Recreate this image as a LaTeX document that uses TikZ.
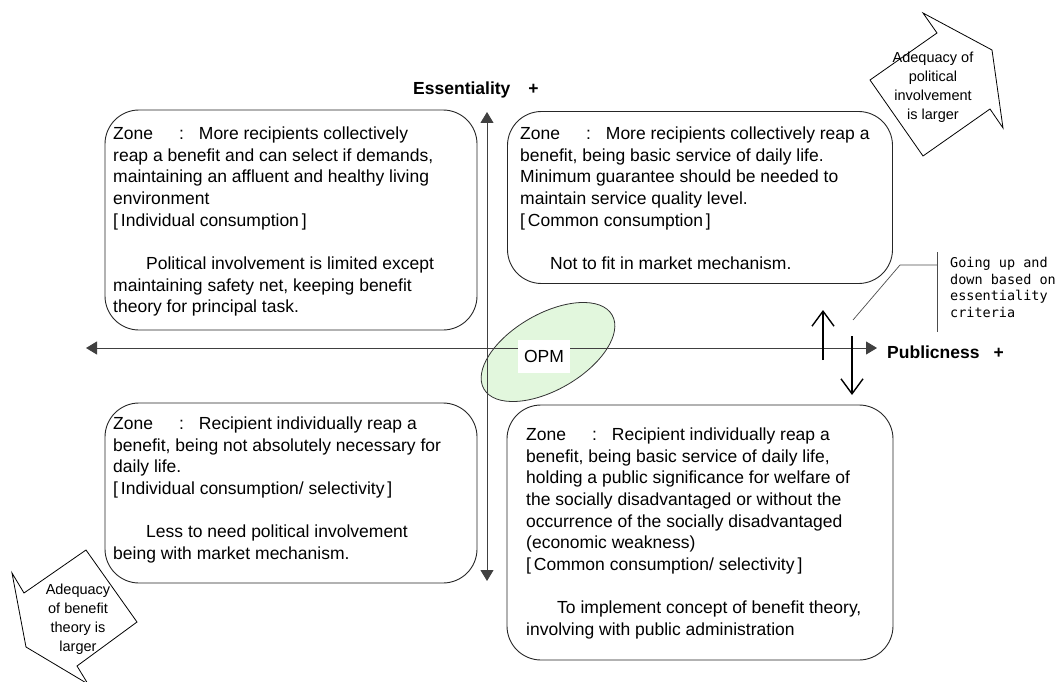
\documentclass[tikz,border=0pt]{standalone}
\usepackage{fontspec}
\setmainfont{Liberation Sans}
\newfontfamily\monofnt{DejaVu Sans Mono}
\usetikzlibrary{arrows.meta,shapes.geometric}

% label of each zone: "Zone  :  "
\newcommand\zonelabel{Zone\hspace{26pt}:\hspace{15pt}}

\begin{document}
\begin{tikzpicture}[x=1pt,y=-1pt,
  zonebox/.style={draw=black!85, line width=0.9pt, rounded corners=34pt, inner sep=0pt},
  zonetext/.style={anchor=north west, inner sep=0pt, align=left,
    font=\fontsize{17.5}{21.7}\selectfont},
  axisline/.style={draw=black!75, line width=0.9pt, -{Triangle[length=11pt,width=13pt]}},
  axislabel/.style={inner sep=0pt, font=\fontsize{17.5}{20}\selectfont\bfseries},
  shiftarrow/.style={line width=2.8pt, -{Straight Barb[length=15pt,width=22pt,line width=1.4pt]}},
  leader/.style={draw=black!70, line width=0.7pt},
  blockarrow/.style={draw=black, line width=0.8pt, line join=miter},
  arrowtext/.style={inner sep=0pt, align=center, font=\fontsize{14.5}{19}\selectfont},
]
\useasboundingbox (0,0) rectangle (1063,682);

% OPM region
\node[ellipse, draw=black!80, line width=0.8pt, fill={rgb,255:red,226;green,247;blue,221},
      minimum width=148pt, minimum height=76pt, rotate=30] (opmzone) at (548,352) {};

% axes
\coordinate (xl) at (86,348);
\coordinate (xr) at (877,348);
\coordinate (yt) at (487,112);
\coordinate (yb) at (487,581);
\coordinate (xo) at (487,348);
\draw[axisline] (xo) -- (xl);
\draw[axisline] (xo) -- (xr);
\draw[axisline] (xo) -- (yt);
\draw[axisline] (xo) -- (yb);

\node[fill=white, inner sep=0pt, minimum width=52pt, minimum height=33pt,
      font=\fontsize{17.5}{20}\selectfont] (opm) at (544,356.5) {OPM};

\node[axislabel, anchor=west] (ess) at (413,90) {Essentiality\hspace{18pt}+};
\node[axislabel, anchor=west] (pub) at (887,352) {Publicness\hspace{14pt}+};

% four zones
\node[zonebox, minimum width=372pt, minimum height=220pt] (tl) at (291,220) {};
\node[zonebox, minimum width=385pt, minimum height=172pt] (tr) at (700,197.5) {};
\node[zonebox, minimum width=372pt, minimum height=180pt] (bl) at (291,493) {};
\node[zonebox, minimum width=386pt, minimum height=255pt] (br) at (700,532.5) {};

\node[zonetext] (tltext) at (113,126.5) {\zonelabel More recipients collectively\\
reap a benefit and can select if demands,\\
maintaining an affluent and healthy living\\
environment\\
{[}\,Individual consumption\,{]}\\[21.7pt]
\hspace*{33pt}Political involvement is limited except\\
maintaining safety net, keeping benefit\\
theory for principal task.};

\node[zonetext] (trtext) at (520,126.5) {\zonelabel More recipients collectively reap a\\
benefit, being basic service of daily life.\\
Minimum guarantee should be needed to\\
maintain service quality level.\\
{[}\,Common consumption\,{]}\\[21.7pt]
\hspace*{30pt}Not to fit in market mechanism.};

\node[zonetext] (bltext) at (113,416.5) {\zonelabel Recipient individually reap a\\
benefit, being not absolutely necessary for\\
daily life.\\
{[}\,Individual consumption/ selectivity\,{]}\\[21.7pt]
\hspace*{33pt}Less to need political involvement\\
being with market mechanism.};

\node[zonetext] (brtext) at (526,427.5) {\zonelabel Recipient individually reap a\\
benefit, being basic service of daily life,\\
holding a public significance for welfare of\\
the socially disadvantaged or without the\\
occurrence of the socially disadvantaged\\
(economic weakness)\\
{[}\,Common consumption/ selectivity\,{]}\\[21.7pt]
\hspace*{31pt}To implement concept of benefit theory,\\
involving with public administration};

% shifting up and down
\coordinate (upfrom) at (823,360);
\coordinate (upto) at (823,310);
\coordinate (downfrom) at (852,336);
\coordinate (downto) at (852,395);
\draw[shiftarrow] (upfrom) -- (upto);
\draw[shiftarrow] (downfrom) -- (downto);

\coordinate (leadstart) at (853,320);
\coordinate (leadbend) at (900,265);
\coordinate (leadend) at (937,265);
\coordinate (bracktop) at (937,252);
\coordinate (brackbot) at (937,332);
\draw[leader] (leadstart) -- (leadbend) -- (leadend);
\draw[leader] (bracktop) -- (brackbot);
\node[anchor=north west, inner sep=0pt, align=left,
      font=\monofnt\fontsize{13.5}{16.7}\selectfont] (note) at (950,257)
  {Going up and\\down based on\\essentiality\\criteria};

% block arrows
\draw[blockarrow] (923,13) -- (992,50) -- (1003,128) -- (990,109) -- (923,156)
  -- (870,80) -- (937,33) -- cycle;
\node[arrowtext] (poltext) at (933,87)
  {Adequacy of\\political\\involvement\\is larger};

\draw[blockarrow] (12,573) -- (24,593) -- (86,550) -- (137,622) -- (77,666)
  -- (88,684) -- (26,647) -- cycle;
\node[arrowtext] (bentext) at (78,619)
  {Adequacy\\of benefit\\theory is\\larger};

\end{tikzpicture}
\end{document}
